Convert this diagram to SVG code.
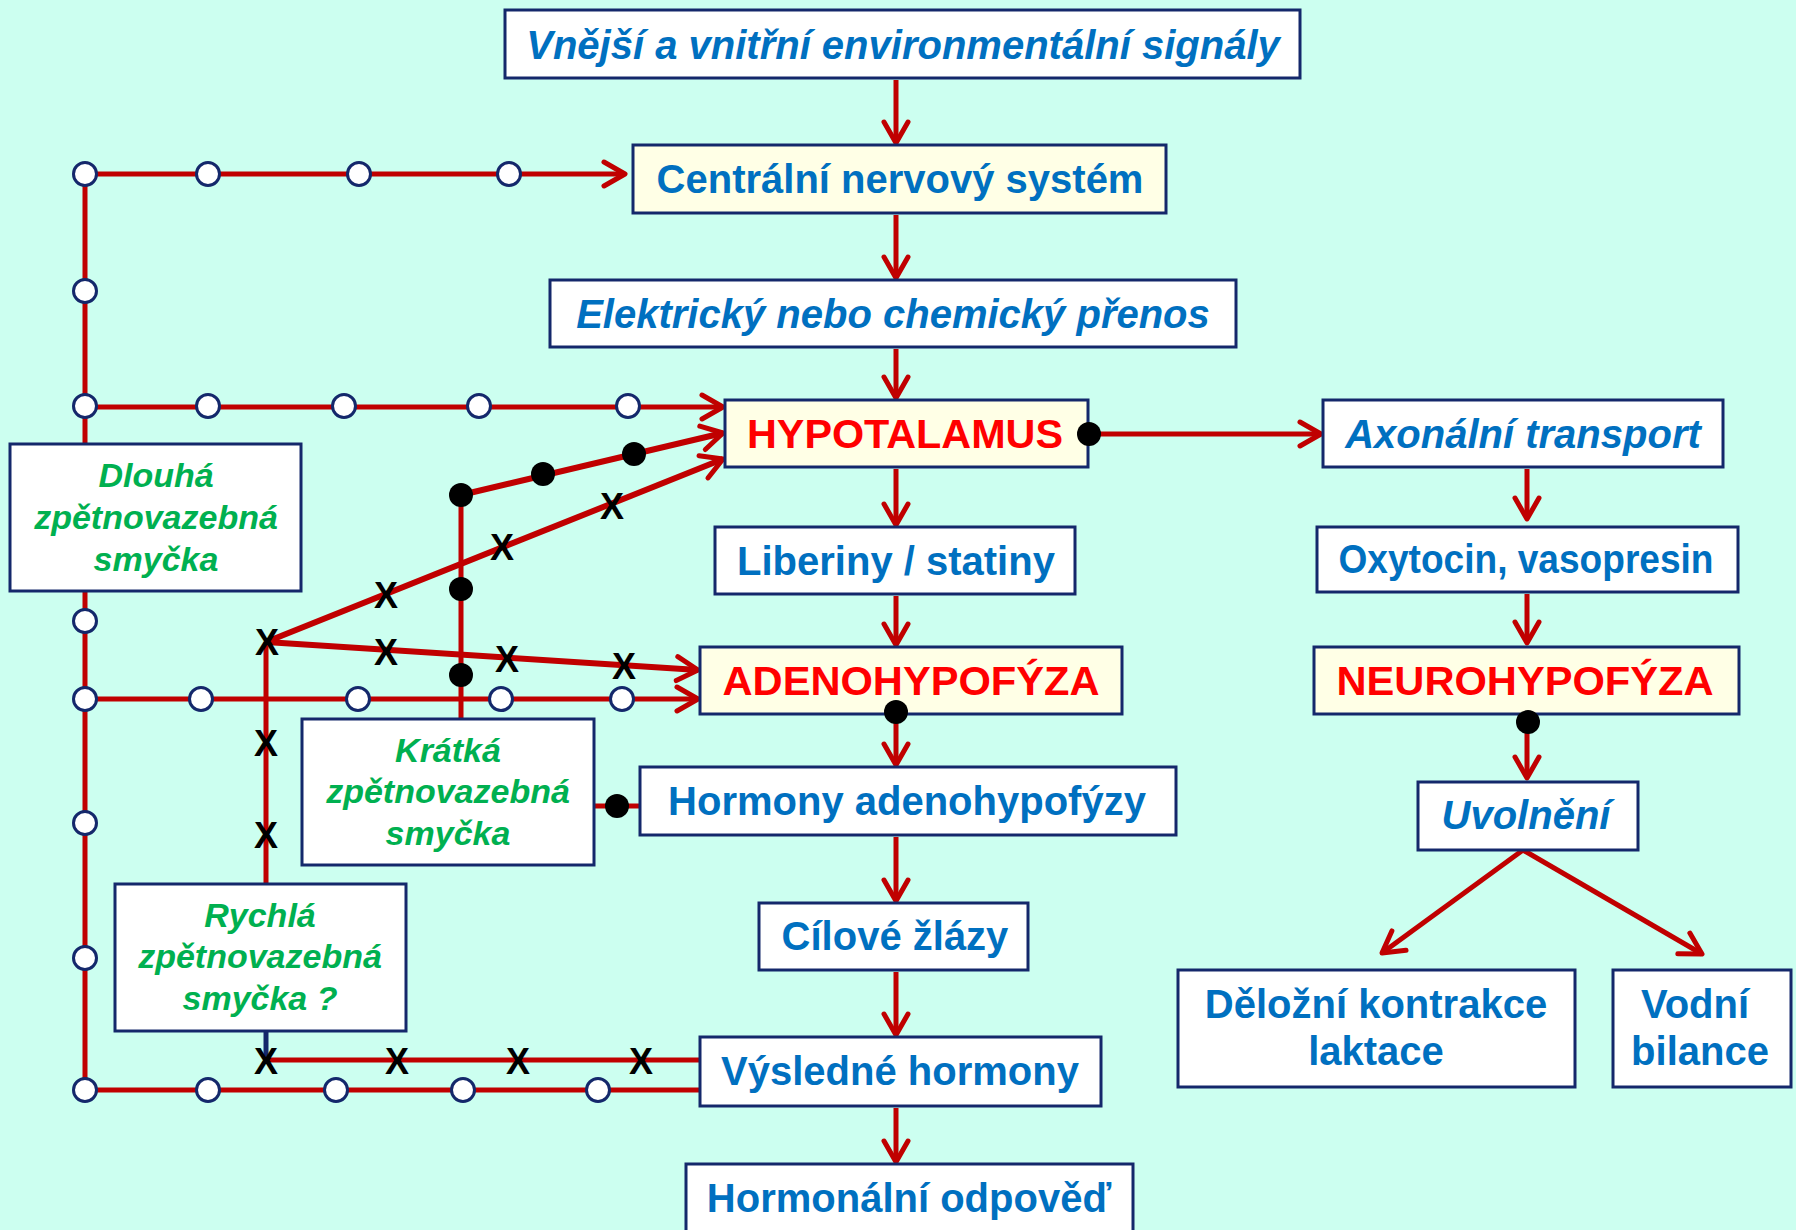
<svg xmlns="http://www.w3.org/2000/svg" width="1796" height="1230" viewBox="0 0 1796 1230">
<defs>
<style>
.bx{stroke:#14286B;stroke-width:3}
.w{fill:#FFFFFF}
.y{fill:#FFFFE6}
.t{font-family:"Liberation Sans",Arial,sans-serif;font-weight:bold;font-size:40px;fill:#0070C0;text-anchor:middle}
.i{font-style:italic}
.r{fill:#FF0000}
.g{fill:#00B050;font-size:34px;font-style:italic}
.ln{stroke:#C00000;stroke-width:5;fill:none}
.lt{stroke:#C00000;stroke-width:6;fill:none}
.arr{marker-end:url(#ah)}
.oc{fill:#FFFFFF;stroke:#14286B;stroke-width:3}
.bd{fill:#000000}
.x{font-family:"Liberation Sans",Arial,sans-serif;font-weight:bold;font-size:36px;fill:#000000;text-anchor:middle}
</style>
<marker id="ah" viewBox="-26 -15 30 30" refX="0" refY="0" markerWidth="30" markerHeight="30" markerUnits="userSpaceOnUse" orient="auto" overflow="visible">
<path d="M-21,-12 L0,0 L-21,12" fill="none" stroke="#C00000" stroke-width="5" stroke-linecap="round" stroke-linejoin="round"/>
</marker>
</defs>
<rect x="0" y="0" width="1796" height="1230" fill="#CCFFF0"/>

<g id="connectors">
<!-- main chain -->
<line class="ln arr" x1="896" y1="80" x2="896" y2="143"/>
<line class="ln arr" x1="896" y1="215" x2="896" y2="278"/>
<line class="ln arr" x1="896" y1="349" x2="896" y2="398"/>
<line class="ln arr" x1="896" y1="469" x2="896" y2="525"/>
<line class="ln arr" x1="896" y1="596" x2="896" y2="645"/>
<line class="ln arr" x1="896" y1="712" x2="896" y2="765"/>
<line class="ln arr" x1="896" y1="837" x2="896" y2="901"/>
<line class="ln arr" x1="896" y1="972" x2="896" y2="1035"/>
<line class="ln arr" x1="896" y1="1108" x2="896" y2="1162"/>
<!-- right chain -->
<line class="ln arr" x1="1089" y1="434" x2="1321" y2="434"/>
<line class="ln arr" x1="1527" y1="469" x2="1527" y2="519"/>
<line class="ln arr" x1="1527" y1="594" x2="1527" y2="643"/>
<line class="ln arr" x1="1527" y1="722" x2="1527" y2="778"/>
<line class="ln arr" x1="1523" y1="850" x2="1382" y2="953"/>
<line class="ln arr" x1="1523" y1="850" x2="1702" y2="954"/>
<!-- long feedback loop -->
<line class="ln" x1="85" y1="174" x2="85" y2="1090"/>
<line class="ln arr" x1="85" y1="174" x2="625" y2="174"/>
<line class="ln arr" x1="85" y1="407" x2="723" y2="407"/>
<line class="ln arr" x1="85" y1="699" x2="698" y2="699"/>
<line class="ln" x1="85" y1="1090" x2="700" y2="1090"/>
<!-- short feedback loop -->
<line class="ln" x1="461" y1="719" x2="461" y2="495"/>
<line class="lt arr" x1="461" y1="495" x2="723" y2="433"/>
<line class="ln" x1="594" y1="806" x2="640" y2="806"/>
<!-- fast feedback loop -->
<line class="ln" x1="266" y1="1060" x2="700" y2="1060"/>
<line x1="266" y1="1031" x2="266" y2="1060" stroke="#14286B" stroke-width="5"/>
<line class="ln" x1="266" y1="884" x2="266" y2="642"/>
<line class="lt arr" x1="266" y1="642" x2="723" y2="459"/>
<line class="lt arr" x1="266" y1="642" x2="698" y2="670"/>
</g>

<g id="n-signaly"><rect class="bx w" x="505" y="10" width="795" height="68"/><text class="t i" x="903" y="59">Vnější a vnitřní environmentální signály</text></g>
<g id="n-cns"><rect class="bx y" x="633" y="145" width="533" height="68"/><text class="t" x="900" y="193">Centrální nervový systém</text></g>
<g id="n-prenos"><rect class="bx w" x="550" y="280" width="686" height="67"/><text class="t i" x="893" y="328">Elektrický nebo chemický přenos</text></g>
<g id="n-hypotalamus"><rect class="bx y" x="725" y="400" width="363" height="67"/><text class="t r" x="905" y="448" textLength="316" lengthAdjust="spacingAndGlyphs">HYPOTALAMUS</text></g>
<g id="n-axonalni"><rect class="bx w" x="1323" y="400" width="400" height="67"/><text class="t i" x="1523" y="448">Axonální transport</text></g>
<g id="n-liberiny"><rect class="bx w" x="715" y="527" width="360" height="67"/><text class="t" x="896" y="575">Liberiny / statiny</text></g>
<g id="n-oxytocin"><rect class="bx w" x="1317" y="527" width="421" height="65"/><text class="t" x="1526" y="573" textLength="375" lengthAdjust="spacingAndGlyphs">Oxytocin, vasopresin</text></g>
<g id="n-adeno"><rect class="bx y" x="700" y="647" width="422" height="67"/><text class="t r" x="911" y="695" textLength="377" lengthAdjust="spacingAndGlyphs">ADENOHYPOFÝZA</text></g>
<g id="n-neuro"><rect class="bx y" x="1314" y="647" width="425" height="67"/><text class="t r" x="1525" y="695" textLength="377" lengthAdjust="spacingAndGlyphs">NEUROHYPOFÝZA</text></g>
<g id="n-hormony-adeno"><rect class="bx w" x="640" y="767" width="536" height="68"/><text class="t" x="907" y="815">Hormony adenohypofýzy</text></g>
<g id="n-uvolneni"><rect class="bx w" x="1418" y="782" width="220" height="68"/><text class="t i" x="1526" y="829">Uvolnění</text></g>
<g id="n-dlouha"><rect class="bx w" x="10" y="444" width="291" height="147"/><text class="t g" x="156" y="487">Dlouhá</text><text class="t g" x="156" y="529">zpětnovazebná</text><text class="t g" x="156" y="571">smyčka</text></g>
<g id="n-kratka"><rect class="bx w" x="302" y="719" width="292" height="146"/><text class="t g" x="448" y="762">Krátká</text><text class="t g" x="448" y="803">zpětnovazebná</text><text class="t g" x="448" y="845">smyčka</text></g>
<g id="n-rychla"><rect class="bx w" x="115" y="884" width="291" height="147"/><text class="t g" x="260" y="927">Rychlá</text><text class="t g" x="260" y="968">zpětnovazebná</text><text class="t g" x="260" y="1010">smyčka ?</text></g>
<g id="n-cilove"><rect class="bx w" x="759" y="903" width="269" height="67"/><text class="t" x="895" y="950">Cílové žlázy</text></g>
<g id="n-vysledne"><rect class="bx w" x="700" y="1037" width="401" height="69"/><text class="t" x="900" y="1085">Výsledné hormony</text></g>
<g id="n-odpoved"><rect class="bx w" x="686" y="1164" width="447" height="80"/><text class="t" x="909" y="1212">Hormonální odpověď</text></g>
<g id="n-delozni"><rect class="bx w" x="1178" y="970" width="397" height="117"/><text class="t" x="1376" y="1018">Děložní kontrakce</text><text class="t" x="1376" y="1065">laktace</text></g>
<g id="n-vodni"><rect class="bx w" x="1613" y="970" width="178" height="117"/><text class="t" x="1695" y="1018">Vodní</text><text class="t" x="1700" y="1065">bilance</text></g>

<g id="junctions">
<!-- open circles -->
<circle class="oc" cx="85" cy="174" r="11.5"/>
<circle class="oc" cx="208" cy="174" r="11.5"/>
<circle class="oc" cx="359" cy="174" r="11.5"/>
<circle class="oc" cx="509" cy="174" r="11.5"/>
<circle class="oc" cx="85" cy="291" r="11.5"/>
<circle class="oc" cx="85" cy="406" r="11.5"/>
<circle class="oc" cx="208" cy="406" r="11.5"/>
<circle class="oc" cx="344" cy="406" r="11.5"/>
<circle class="oc" cx="479" cy="406" r="11.5"/>
<circle class="oc" cx="628" cy="406" r="11.5"/>
<circle class="oc" cx="85" cy="621" r="11.5"/>
<circle class="oc" cx="85" cy="699" r="11.5"/>
<circle class="oc" cx="201" cy="699" r="11.5"/>
<circle class="oc" cx="358" cy="699" r="11.5"/>
<circle class="oc" cx="501" cy="699" r="11.5"/>
<circle class="oc" cx="622" cy="699" r="11.5"/>
<circle class="oc" cx="85" cy="823" r="11.5"/>
<circle class="oc" cx="85" cy="958" r="11.5"/>
<circle class="oc" cx="85" cy="1090" r="11.5"/>
<circle class="oc" cx="208" cy="1090" r="11.5"/>
<circle class="oc" cx="336" cy="1090" r="11.5"/>
<circle class="oc" cx="463" cy="1090" r="11.5"/>
<circle class="oc" cx="598" cy="1090" r="11.5"/>
<!-- black dots -->
<circle class="bd" cx="461" cy="495" r="12"/>
<circle class="bd" cx="543" cy="474" r="12"/>
<circle class="bd" cx="634" cy="454" r="12"/>
<circle class="bd" cx="461" cy="589" r="12"/>
<circle class="bd" cx="461" cy="675" r="12"/>
<circle class="bd" cx="617" cy="806" r="12"/>
<circle class="bd" cx="1089" cy="434" r="12"/>
<circle class="bd" cx="896" cy="712" r="12"/>
<circle class="bd" cx="1528" cy="722" r="12"/>
<!-- X marks -->
<text class="x" x="267" y="655">X</text>
<text class="x" x="386" y="608">X</text>
<text class="x" x="502" y="560">X</text>
<text class="x" x="612" y="519">X</text>
<text class="x" x="386" y="665">X</text>
<text class="x" x="507" y="672">X</text>
<text class="x" x="624" y="679">X</text>
<text class="x" x="266" y="756">X</text>
<text class="x" x="266" y="848">X</text>
<text class="x" x="266" y="1074">X</text>
<text class="x" x="397" y="1074">X</text>
<text class="x" x="518" y="1074">X</text>
<text class="x" x="641" y="1074">X</text>
</g>
</svg>
